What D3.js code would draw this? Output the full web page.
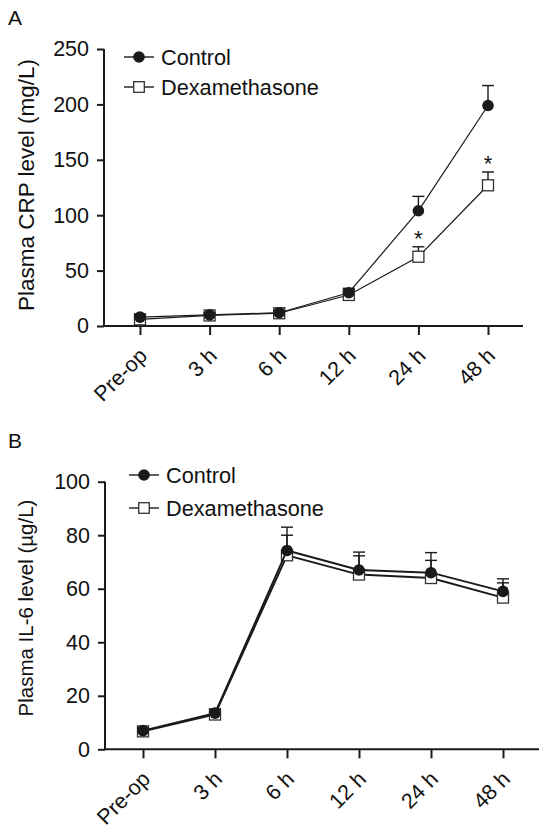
<!DOCTYPE html>
<html>
<head>
<meta charset="utf-8">
<script src="https://cdn.jsdelivr.net/npm/d3@7/dist/d3.min.js"></script>
<style>
  html, body { margin: 0; padding: 0; background: #fff; }
  svg { display: block; }
  text { font-family: "Liberation Sans", Arial, Helvetica, sans-serif; fill: #111; }
</style>
</head>
<body>
<svg id="chart" width="548" height="833"></svg>
<script>
// ---- Data ----
const timepoints = ["Pre-op", "3 h", "6 h", "12 h", "24 h", "48 h"];
const seriesNames = ["Control", "Dexamethasone"];

// Panel A: Plasma CRP (mg/L)
const crpControl    = [8, 10, 12, 30, 104, 199];
const crpControlErr = [2, 2, 2, 4, 13, 18];
const crpDexa       = [6, 9.5, 11.5, 28, 62.5, 127];
const crpDexaErr    = [2, 2, 2, 3, 9, 12];
const crpStars      = ["24 h", "48 h"];
const crpTicks      = [0, 50, 100, 150, 200, 250];

// Panel B: Plasma IL-6 (µg/L)
const il6Control    = [7, 13.5, 74.3, 67, 66, 59];
const il6ControlErr = [1, 1.5, 8.7, 6.7, 7.5, 4.7];
const il6Dexa       = [6.7, 13, 72.5, 65.3, 64, 56.7];
const il6DexaErr    = [1, 1.5, 7.5, 7, 6.6, 5.5];
const il6Ticks      = [0, 20, 40, 60, 80, 100];

const svg = d3.select("#chart");
const ink = "#1a1a1a";

function drawPanel(cfg) {
  const g = svg.append("g");
  const x = d3.scalePoint().domain(timepoints).range(cfg.xRange);
  const y = d3.scaleLinear().domain([0, cfg.yMax]).range(cfg.yRange);

  // panel letter
  g.append("text").attr("x", 8).attr("y", cfg.letterY)
    .style("font-size", "21px").text(cfg.letter);

  // y axis
  const yAxis = g.append("g").attr("transform", `translate(${cfg.axisX},0)`)
    .call(d3.axisLeft(y).tickValues(cfg.ticks).tickSize(7).tickPadding(8).tickFormat(d3.format("d")));
  yAxis.select(".domain").attr("d", `M0,${y(cfg.yMax)}V${y(0)}`);
  yAxis.selectAll("path, line").attr("stroke", ink).attr("stroke-width", 2);
  yAxis.selectAll("text").style("font-size", "21.5px").attr("fill", ink)
    .style("font-family", '"Liberation Sans", Arial, sans-serif');

  // x axis
  const xAxis = g.append("g").attr("transform", `translate(0,${y(0)})`)
    .call(d3.axisBottom(x).tickSize(9).tickFormat(""));
  xAxis.select(".domain").attr("d", `M${cfg.axisX},0H${cfg.xEnd}`);
  xAxis.selectAll("path, line").attr("stroke", ink).attr("stroke-width", 2);
  xAxis.selectAll(".tick").append("text")
    .attr("transform", "translate(8,31) rotate(-45)")
    .attr("text-anchor", "end")
    .style("font-size", "21.5px")
    .attr("fill", ink)
    .text(d => d);

  // y title
  g.append("text")
    .attr("transform", `translate(${cfg.titleX},${cfg.titleY}) rotate(-90)`)
    .attr("text-anchor", "middle")
    .attr("dy", "0.35em")
    .style("font-size", cfg.titleSize + "px")
    .text(cfg.title);

  const line = d3.line().x((d, i) => x(timepoints[i])).y(d => y(d));

  function series(vals, errs, isControl) {
    const sg = g.append("g");
    sg.append("path").datum(vals).attr("d", line)
      .attr("fill", "none").attr("stroke", ink).attr("stroke-width", cfg.lineW);
    // error bars (upper)
    vals.forEach((v, i) => {
      const cx = x(timepoints[i]);
      sg.append("line").attr("x1", cx).attr("x2", cx)
        .attr("y1", y(v)).attr("y2", y(v + errs[i]))
        .attr("stroke", ink).attr("stroke-width", 1.4);
      sg.append("line").attr("x1", cx - 6).attr("x2", cx + 6)
        .attr("y1", y(v + errs[i])).attr("y2", y(v + errs[i]))
        .attr("stroke", ink).attr("stroke-width", 1.4);
    });
    vals.forEach((v, i) => {
      const cx = x(timepoints[i]);
      if (isControl) {
        sg.append("circle").attr("cx", cx).attr("cy", y(v)).attr("r", 5.8).attr("fill", ink);
      } else {
        sg.append("rect").attr("x", cx - 5.5).attr("y", y(v) - 5.5)
          .attr("width", 11).attr("height", 11)
          .attr("fill", "#fff").attr("stroke", "#333").attr("stroke-width", 1.3);
      }
    });
  }
  series(cfg.dexa, cfg.dexaErr, false);
  series(cfg.control, cfg.controlErr, true);

  // stars
  (cfg.stars || []).forEach(t => {
    const i = timepoints.indexOf(t);
    g.append("text").attr("x", x(t)).attr("y", y(cfg.dexa[i] + cfg.dexaErr[i]) - 1)
      .attr("text-anchor", "middle").style("font-size", "22px").text("*");
  });

  // legend
  const lg = g.append("g");
  seriesNames.forEach((name, k) => {
    const ly = cfg.legendY[k];
    const lx = cfg.legendX;
    lg.append("line").attr("x1", lx - 15).attr("x2", lx + 15).attr("y1", ly).attr("y2", ly)
      .attr("stroke", ink).attr("stroke-width", 1.4);
    if (k === 0) {
      lg.append("circle").attr("cx", lx).attr("cy", ly).attr("r", 5.8).attr("fill", ink);
    } else {
      lg.append("rect").attr("x", lx - 5.3).attr("y", ly - 5.3).attr("width", 10.6).attr("height", 10.6)
        .attr("fill", "#fff").attr("stroke", "#333").attr("stroke-width", 1.3);
    }
    lg.append("text").attr("x", lx + 22).attr("y", ly).attr("dy", "0.36em")
      .style("font-size", "21.7px").text(name);
  });
}

drawPanel({
  letter: "A", letterY: 25,
  axisX: 104, xEnd: 523, xRange: [140, 488],
  yMax: 250, yRange: [326, 49], ticks: crpTicks,
  control: crpControl, controlErr: crpControlErr,
  dexa: crpDexa, dexaErr: crpDexaErr, stars: crpStars,
  title: "Plasma CRP level (mg/L)", titleX: 26, titleY: 185, titleSize: 22.5,
  legendX: 139, legendY: [57, 87], lineW: 1.2
});

drawPanel({
  letter: "B", letterY: 448,
  axisX: 105, xEnd: 539, xRange: [143, 503],
  yMax: 100, yRange: [749.3, 481.7], ticks: il6Ticks,
  control: il6Control, controlErr: il6ControlErr,
  dexa: il6Dexa, dexaErr: il6DexaErr, stars: [],
  title: "Plasma IL-6 level (\u00B5g/L)", titleX: 26, titleY: 608, titleSize: 20.5,
  legendX: 144, legendY: [475, 508], lineW: 1.9
});
</script>
</body>
</html>
